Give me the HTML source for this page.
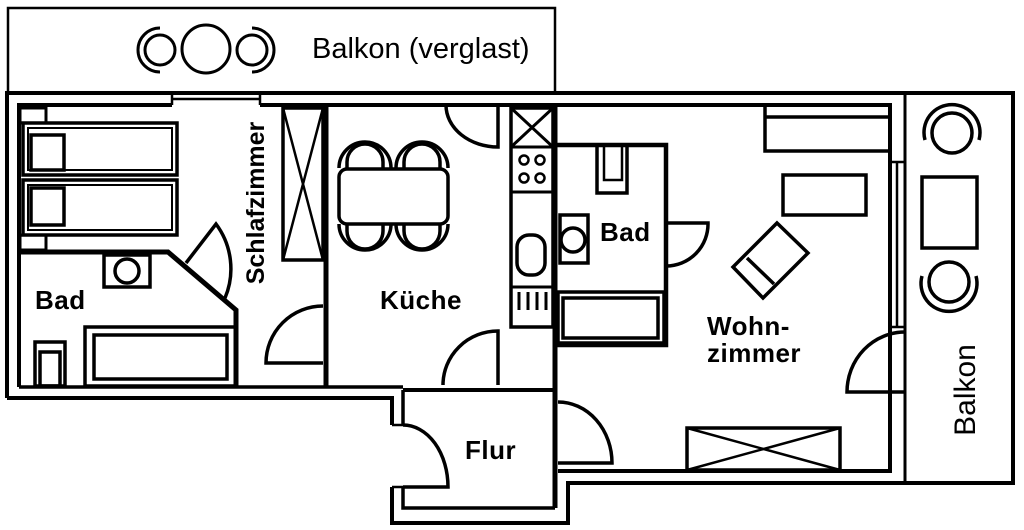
<!DOCTYPE html>
<html><head><meta charset="utf-8"><style>
html,body{margin:0;padding:0;background:#fff;width:1024px;height:530px;overflow:hidden}
text{font-family:"Liberation Sans",Arial,sans-serif;fill:#000}
.l{font-size:26px;font-weight:bold;letter-spacing:0.5px}
</style></head><body>
<svg width="1024" height="530" viewBox="0 0 1024 530" xmlns="http://www.w3.org/2000/svg" fill="none" stroke="#000" stroke-width="3.5">
<!-- top balcony -->
<rect x="8" y="8" width="547" height="85" stroke-width="2.5"/>
<circle cx="160" cy="50" r="15" stroke-width="3"/>
<path d="M160 28 A22 22 0 0 0 160 72" stroke-width="3"/>
<circle cx="206" cy="49" r="24" stroke-width="3"/>
<circle cx="252" cy="50" r="15" stroke-width="3"/>
<path d="M252 28 A22 22 0 0 1 252 72" stroke-width="3"/>
<text x="312" y="58" font-size="29" stroke="none">Balkon (verglast)</text>
<!-- outer walls -->
<path d="M7 398 L7 93 L1013 93 L1013 483 L568 483 L568 523 L392 523 L392 487 M392 425 L392 398 L7 398" stroke-width="4"/>
<path d="M19 387 L19 105 L172 105 M260 105 L498 105 M446 105 L890 105 L890 471 L558 471" stroke-width="4"/>
<!-- top window -->
<path d="M172 93 L172 105 M260 93 L260 105 M172 99 L260 99" stroke-width="2.5"/>
<!-- right balcony -->
<path d="M905 93 L905 483" stroke-width="3"/>
<path d="M890 162 L905 162 M890 327 L905 327 M897 162 L897 327" stroke-width="2.5"/>
<circle cx="952" cy="133" r="20"/>
<path d="M925 140 A28 28 0 1 1 979 140"/>
<rect x="922" y="177" width="55" height="71"/>
<circle cx="949" cy="282" r="20"/>
<path d="M922 276 A28 28 0 1 0 976 276"/>
<text transform="translate(975,390) rotate(-90)" text-anchor="middle" font-size="30" stroke="none">Balkon</text>
<!-- Schlafzimmer -->
<rect x="20" y="108" width="26" height="15" stroke-width="3"/>
<rect x="20" y="235" width="26" height="15" stroke-width="3"/>
<rect x="23" y="123" width="154" height="52"/>
<rect x="28" y="128" width="144" height="42" stroke-width="2"/>
<rect x="31" y="135" width="33" height="35"/>
<rect x="23" y="180" width="154" height="55"/>
<rect x="28" y="185" width="144" height="45" stroke-width="2"/>
<rect x="31" y="188" width="33" height="37"/>
<path d="M19 252 L168 252 L236 310 L236 387" stroke-width="5"/>
<path d="M186 263 L216 224 A75 75 0 0 1 225 298"/>
<rect x="283" y="108" width="40" height="152"/>
<path d="M283 108 L323 260 M323 108 L283 260" stroke-width="2.5"/>
<path d="M326 106 L326 387" stroke-width="5"/>
<path d="M323 363 L266 363 A57 57 0 0 1 323 306"/>
<text transform="translate(264,203) rotate(-90)" text-anchor="middle" class="l" style="font-size:25px;letter-spacing:0" stroke="none">Schlafzimmer</text>
<!-- Bad left -->
<rect x="104" y="255" width="46" height="32"/>
<circle cx="127" cy="271" r="12"/>
<rect x="35" y="342" width="30" height="44"/>
<rect x="40" y="352" width="20" height="34"/>
<rect x="85" y="327" width="151" height="59"/>
<rect x="94" y="335" width="133" height="44"/>
<path d="M19 387 L403 387" stroke-width="3.5"/>
<text x="35" y="309" class="l" stroke="none">Bad</text>
<!-- Küche -->
<rect x="339" y="169" width="109" height="55" rx="8"/>
<path d="M347 169 L347 162 A18 18 0 0 1 383 162 L383 169 M404 169 L404 162 A18 18 0 0 1 440 162 L440 169"/>
<path d="M339 168 A26 26 0 0 1 391 168 M396 168 A26 26 0 0 1 448 168"/>
<path d="M347 224 L347 231 A18 18 0 0 0 383 231 L383 224 M404 224 L404 231 A18 18 0 0 0 440 231 L440 224"/>
<path d="M339 224 A26 26 0 0 0 391 224 M396 224 A26 26 0 0 0 448 224"/>
<path d="M446 105 A52 42 0 0 0 498 147 L498 105"/>
<path d="M498 385 L498 331 A55 54 0 0 0 443 385"/>
<rect x="511" y="108" width="42" height="219"/>
<path d="M511 147 L553 147 M511 192 L553 192 M511 287 L553 287 M511 108 L553 147 M553 108 L511 147" stroke-width="3"/>
<circle cx="524" cy="160" r="4.5" stroke-width="2.5"/><circle cx="540" cy="160" r="4.5" stroke-width="2.5"/>
<circle cx="524" cy="178" r="4.5" stroke-width="2.5"/><circle cx="540" cy="178" r="4.5" stroke-width="2.5"/>
<rect x="517" y="235" width="28" height="40" rx="12"/>
<path d="M519 292 L519 310 M528 292 L528 310 M537 292 L537 310 M546 292 L546 310" stroke-width="3"/>
<text x="380" y="309" class="l" stroke="none">Küche</text>
<!-- walls center -->
<path d="M555 106 L555 508" stroke-width="5"/>
<path d="M403 390 L555 390" stroke-width="4"/>
<!-- Flur -->
<path d="M403 390 L403 425 M403 487 L403 508 L555 508" stroke-width="3.5"/>
<path d="M392 425 L403 425 M392 487 L403 487" stroke-width="2.5"/>
<path d="M403 425 A45 62 0 0 1 448 487 L403 487"/>
<text x="465" y="459" class="l" stroke="none">Flur</text>
<!-- Bad right -->
<path d="M555 145 L666 145 L666 345 L555 345" stroke-width="4.5"/>
<rect x="597" y="145" width="30" height="48"/>
<rect x="604" y="145" width="18" height="35" stroke-width="2.5"/>
<rect x="560" y="215" width="28" height="48"/>
<circle cx="573" cy="240" r="12"/>
<rect x="558" y="292" width="106" height="51"/>
<rect x="563" y="298" width="95" height="40"/>
<path d="M666 223 L708 223 A42 42 0 0 1 666 266"/>
<text x="600" y="241" class="l" stroke="none">Bad</text>
<!-- Wohnzimmer -->
<path d="M765 105 L765 151 L890 151 M765 117 L890 117"/>
<rect x="783" y="175" width="83" height="40"/>
<path d="M777 223 L808 253 L763 298 L733 267 Z"/>
<path d="M747 258 L774 284"/>
<rect x="687" y="428" width="153" height="42"/>
<path d="M687 428 L840 470 M840 428 L687 470" stroke-width="2.5"/>
<path d="M905 392 L847 392 A58 60 0 0 1 905 332"/>
<path d="M558 402 A54 61 0 0 1 612 463 L558 463"/>
<text x="707" y="335" class="l" stroke="none">Wohn-</text>
<text x="707" y="362" class="l" stroke="none">zimmer</text>
</svg>
</body></html>
